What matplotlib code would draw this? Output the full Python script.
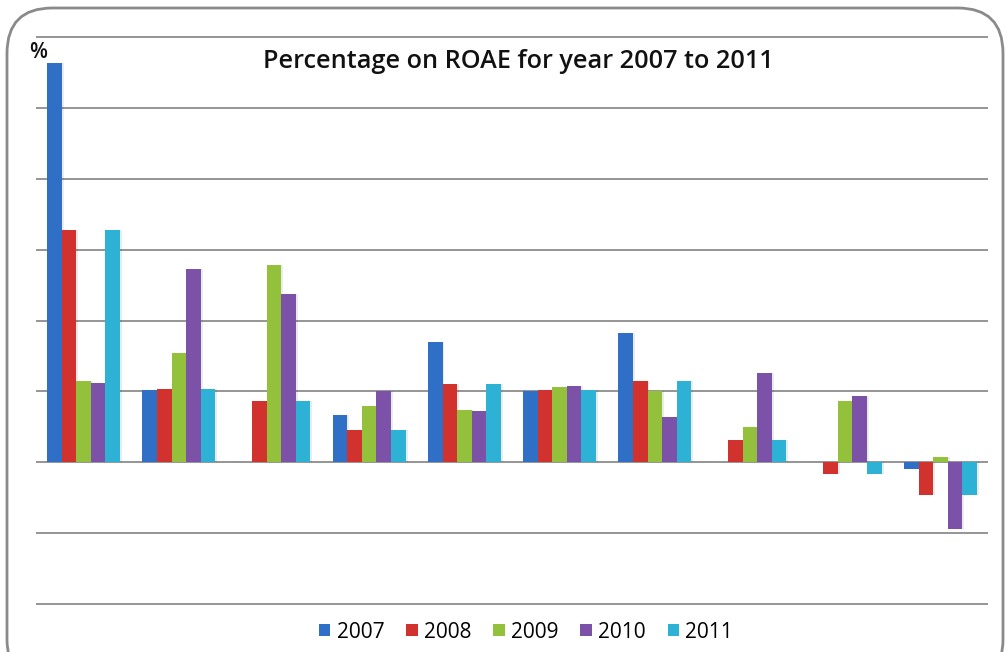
import numpy as np
import matplotlib
matplotlib.use("Agg")
import matplotlib.pyplot as plt
from matplotlib.patches import FancyBboxPatch

plt.rcParams['font.family'] = ['Open Sans', 'DejaVu Sans']

# ROAE (%) per bank, one list per year
years = ['2007', '2008', '2009', '2010', '2011']
roae_2007 = [28.2, 5.1, 0.0, 3.3, 8.5, 5.0, 9.1, 0.0, 0.0, -0.5]
roae_2008 = [16.4, 5.2, 4.3, 2.3, 5.5, 5.1, 5.7, 1.6, -0.8, -2.3]
roae_2009 = [5.7, 7.7, 13.9, 4.0, 3.7, 5.3, 5.0, 2.5, 4.3, 0.4]
roae_2010 = [5.6, 13.6, 11.9, 5.0, 3.6, 5.4, 3.2, 6.3, 4.7, -4.7]
roae_2011 = [16.4, 5.2, 4.3, 2.3, 5.5, 5.1, 5.7, 1.6, -0.8, -2.3]
series = [roae_2007, roae_2008, roae_2009, roae_2010, roae_2011]
colors = ['#2f6fc6', '#d2322d', '#94c13c', '#7b52a8', '#2db2d6']

fig = plt.figure(figsize=(10.08, 6.52), dpi=100)
ax = fig.add_axes([36/1008, 1 - 604/652, 952/1008, (604 - 37)/652])

n = len(roae_2007)
x = np.arange(n)
w = 0.153
for i, (vals, c) in enumerate(zip(series, colors)):
    xs = x + (i - 2) * w
    # soft drop shadow behind each bar
    ax.bar(xs + 0.02, vals, w, bottom=0, color='#000000', alpha=0.08, zorder=1,
           linewidth=0)
    ax.bar(xs, vals, w, color=c, label=years[i], zorder=2, linewidth=0)

ax.set_xlim(-0.5, n - 0.5)
ax.set_ylim(-10, 30)
ax.hlines(np.arange(-10, 31, 5), -0.5, n - 0.5, color='#8c8c8c', lw=1.3,
          zorder=0, clip_on=False)
for s in ax.spines.values():
    s.set_visible(False)
ax.set_xticks([])
ax.set_yticks([])

fig.text(518/1008, 1 - 62/652, 'Percentage on ROAE for year 2007 to 2011',
         fontsize=18.2, fontweight='semibold', color='#111111',
         va='center', ha='center')
fig.text(29/1008, 1 - 53/652, '%', fontsize=15, fontweight='semibold',
         color='#111111', va='center', ha='left')

leg = ax.legend(loc='center', bbox_to_anchor=(526/1008, 1 - 632/652),
                bbox_transform=fig.transFigure, ncol=5, frameon=False,
                fontsize=15, handlelength=0.55, handleheight=0.55,
                handletextpad=0.3, columnspacing=1.05)

# rounded outer frame
frame = FancyBboxPatch((7/1008, -0.05), 996/1008, 0.05 + 1 - 8/652,
                       boxstyle='round,pad=0,rounding_size=0.045',
                       transform=fig.transFigure, facecolor='none',
                       edgecolor='#8a8a8a', lw=2, mutation_aspect=1008/652)
fig.patches.append(frame)

fig.savefig('out.png', dpi=100)
